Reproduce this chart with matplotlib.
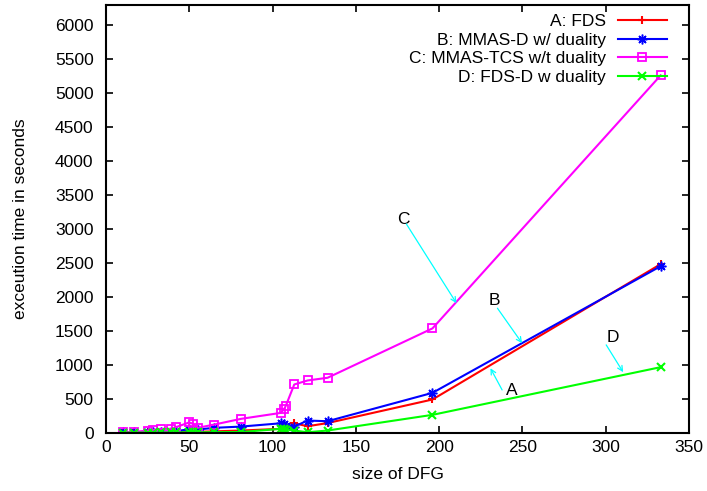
import matplotlib.pyplot as plt

### execution time vs DFG size, four scheduling methods

plt.rcParams['font.family'] = ['Liberation Sans', 'DejaVu Sans']

# data
dfg_size = [10, 17, 25, 28, 33, 39, 42, 50, 52, 55, 65, 81, 105, 107, 108, 113, 121, 133, 196, 333]
time_fds = [1, 2, 3, 4, 5, 6, 8, 12, 14, 12, 18, 30, 55, 70, 60, 137, 93, 140, 487, 2480]
time_mmas_d = [2, 3, 5, 8, 10, 15, 20, 50, 55, 45, 70, 88, 137, 120, 103, 88, 177, 167, 585, 2450]
time_mmas_tcs = [5, 10, 30, 40, 55, 55, 80, 150, 130, 70, 118, 202, 290, 350, 398, 708, 767, 807, 1534, 5260]
time_fds_d = [0, 0, 1, 1, 2, 2, 3, 4, 4, 4, 6, 8, 55, 50, 45, 30, 5, 30, 261, 963]

labels = ['A: FDS', 'B: MMAS-D w/ duality', 'C: MMAS-TCS w/t duality', 'D: FDS-D w duality']

fig = plt.figure(figsize=(7.07, 4.91), dpi=100)
ax = fig.add_axes([0.150, 0.119, 0.8245, 0.870])

fs = 12.5
ax.plot(dfg_size, time_fds, color='#ff0000', lw=1.5, marker='+', ms=6, mew=1.5, label=labels[0])
ax.plot(dfg_size, time_mmas_d, color='#0000ff', lw=1.5, marker=(8, 2, 0), ms=7, mew=1.1, label=labels[1])
ax.plot(dfg_size, time_mmas_tcs, color='#ff00ff', lw=1.5, marker='s', ms=6, mew=1.3,
        mfc='none', label=labels[2])
ax.plot(dfg_size, time_fds_d, color='#00ff00', lw=1.5, marker='x', ms=5.5, mew=1.5, label=labels[3])

# letter callouts
notes = [('C', (178.5, 3131), (180.3, 3072), (210.4, 1905)),
         ('B', (233.4, 1938), (235.0, 1831), (249.8, 1316)),
         ('A', (243.4, 614), (237.8, 628), (230.8, 948)),
         ('D', (304.3, 1404), (300.3, 1291), (310.5, 889))]
for letter, txt_pos, start, end in notes:
    ax.text(txt_pos[0], txt_pos[1], letter, fontsize=fs, ha='center', va='center')
    ax.annotate('', xy=end, xytext=start,
                arrowprops=dict(arrowstyle='->', color='#00ffff', lw=0.9,
                                shrinkA=0, shrinkB=0, mutation_scale=9))

ax.set_xlim(0, 350)
ax.set_ylim(0, 6290)
ax.set_xticks(range(0, 351, 50))
ax.set_yticks(range(0, 6001, 500))
ax.tick_params(direction='in', top=True, right=True, length=5, width=1.2,
               labelsize=fs)
ax.tick_params(axis='y', pad=9)
ax.tick_params(axis='x', pad=5)
for sp in ax.spines.values():
    sp.set_linewidth(1.5)

ax.set_xlabel('size of DFG', fontsize=fs)
ax.set_ylabel('exceution time in seconds', fontsize=fs)
ax.xaxis.set_label_coords(0.5, -0.080)
ax.yaxis.set_label_coords(-0.134, 0.5)

ax.legend(loc='upper right', bbox_to_anchor=(0.977, 1.0), frameon=False,
          markerfirst=False, fontsize=fs, handlelength=2.82, labelspacing=0.2,
          handletextpad=0.7, borderaxespad=0.5, borderpad=0.0)

fig.savefig('out.png', dpi=100)
